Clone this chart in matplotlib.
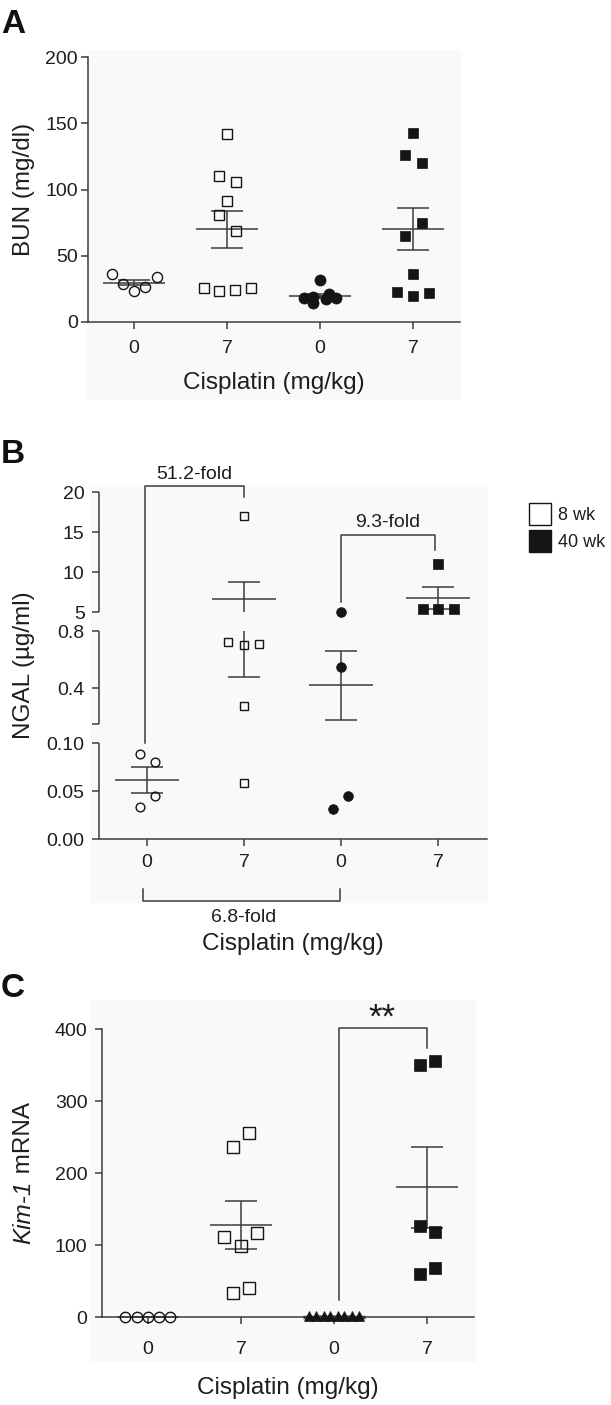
import numpy as np
import matplotlib
matplotlib.use('Agg')
import matplotlib.pyplot as plt
from matplotlib.lines import Line2D
from matplotlib.patches import Rectangle

plt.rcParams['font.family'] = ['Liberation Sans', 'DejaVu Sans']

# ---------------- data ----------------
xtick_labels = ['0', '7', '0', '7']
legend_labels = ['8 wk', '40 wk']

# Panel A: BUN (mg/dl)
bun_8wk_0 = [36, 29, 23.5, 26.5, 34]
bun_8wk_0_dx = [-0.24, -0.12, 0.0, 0.12, 0.25]
bun_8wk_7 = [142, 110, 106, 91, 81, 69, 26, 23.5, 24.3, 26]
bun_8wk_7_dx = [0.0, -0.09, 0.10, 0.0, -0.09, 0.10, -0.25, -0.09, 0.09, 0.26]
bun_40wk_0 = [32, 18, 14, 17, 21, 18, 19]
bun_40wk_0_dx = [0.0, -0.17, -0.07, 0.06, 0.10, 0.17, -0.08]
bun_40wk_7 = [143, 126, 120, 75, 65, 36, 23, 20, 22]
bun_40wk_7_dx = [0.0, -0.09, 0.10, 0.10, -0.09, 0.0, -0.17, 0.0, 0.17]
bun_mean = [29.5, 70, 19.6, 70]
bun_sem = [1.9, 14, 1.6, 16]

# Panel B: NGAL (ug/ml)
ngal_8wk_0 = [0.0885, 0.080, 0.045, 0.033]
ngal_8wk_0_dx = [-0.07, 0.08, 0.08, -0.07]
ngal_8wk_7 = [17.0, 0.72, 0.70, 0.71, 0.274, 0.058]
ngal_8wk_7_dx = [0.0, -0.16, 0.0, 0.15, 0.0, 0.0]
ngal_40wk_0 = [5.0, 0.55, 0.031, 0.045]
ngal_40wk_0_dx = [0.0, 0.0, -0.08, 0.07]
ngal_40wk_7 = [11.0, 5.4, 5.4, 5.4]
ngal_40wk_7_dx = [0.0, -0.15, 0.0, 0.16]
ngal_mean = [0.061, 6.6, 0.42, 6.75]
ngal_err_hi = [0.075, 8.75, 0.66, 8.1]
ngal_err_lo = [0.048, 0.48, 0.175, 5.4]

# Panel C: Kim-1 mRNA
kim_8wk_0 = [0, 0, 0, 0, 0]
kim_8wk_0_dx = [-0.25, -0.12, 0.0, 0.12, 0.24]
kim_8wk_7 = [256, 236, 111, 117, 99, 33, 40]
kim_8wk_7_dx = [0.09, -0.09, -0.18, 0.17, 0.0, -0.09, 0.09]
kim_40wk_0 = [1, 1, 1, 1, 1, 1, 1, 1]
kim_40wk_0_dx = [-0.27, -0.19, -0.11, -0.04, 0.04, 0.11, 0.19, 0.27]
kim_40wk_7 = [350, 355, 127, 118, 60, 68]
kim_40wk_7_dx = [-0.08, 0.09, -0.08, 0.09, -0.08, 0.09]
kim_mean = [0, 128, 0, 180]
kim_sem = [0, 33.5, 0, 56]

# ---------------- style ----------------
W, H = 611, 1405
LINE = '#3c3c3c'
INK = '#151515'
TXT = '#1e1e1e'
LW = 1.1
TICK_FS = 14
LABEL_FS = 17.5
ANN_FS = 14
MEAN_HW = 0.33
CAP_HW = 0.17

fig = plt.figure(figsize=(W / 100, H / 100), dpi=100)
fig.patch.set_facecolor('white')


def px_rect(x0, x1, ytop, ybot):
    return [x0 / W, 1 - ybot / H, (x1 - x0) / W, (ybot - ytop) / H]


def bg(x0, x1, ytop, ybot):
    fig.add_artist(Rectangle((x0 / W, 1 - ybot / H), (x1 - x0) / W, (ybot - ytop) / H,
                             transform=fig.transFigure, facecolor='#f9f9f9',
                             edgecolor='none', zorder=0))


def style(ax, ypad, xpad):
    for s in ['top', 'right']:
        ax.spines[s].set_visible(False)
    for s in ['left', 'bottom']:
        ax.spines[s].set_color(LINE)
        ax.spines[s].set_linewidth(LW)
    ax.tick_params(axis='both', direction='out', length=5, width=LW, color=LINE,
                   labelcolor=TXT, labelsize=TICK_FS)
    ax.tick_params(axis='y', pad=ypad)
    ax.tick_params(axis='x', pad=xpad)
    ax.set_facecolor('none')
    ax.set_xlim(-0.5, 3.5)
    ax.set_xticks(range(4))
    ax.set_xticklabels(xtick_labels)


def points(ax, gi, vals, dx, marker, filled, ms):
    x = gi + np.asarray(dx)
    ax.plot(x, vals, ls='none', marker=marker, ms=ms,
            mfc=INK if filled else 'none', mec=INK, mew=1.0 if not filled else 0.5,
            clip_on=False, zorder=4)


def mean_bar(ax, gi, m, lo, hi, lw=LW, vsegs=None):
    ax.hlines(m, gi - MEAN_HW, gi + MEAN_HW, color=LINE, lw=lw, zorder=3, clip_on=False)
    ax.hlines([lo, hi], gi - CAP_HW, gi + CAP_HW, color=LINE, lw=lw, zorder=3, clip_on=False)
    if vsegs is None:
        ax.vlines(gi, lo, hi, color=LINE, lw=lw, zorder=3, clip_on=False)
    else:
        for s0, s1 in vsegs:
            a, b = max(lo, s0), min(hi, s1)
            if b > a:
                ax.vlines(gi, a, b, color=LINE, lw=lw, zorder=3)


def xlabel(ax, ybase_px, ytop_px, ybot_px):
    frac = (ybot_px - ybase_px) / (ybot_px - ytop_px)
    ax.text(0.5, frac, 'Cisplatin (mg/kg)', transform=ax.transAxes, ha='center',
            va='baseline', fontsize=LABEL_FS, color=TXT)


# ---------------- Panel A ----------------
bg(87, 461, 50, 400)
axA = fig.add_axes(px_rect(87.5, 459.5, 57, 322))
style(axA, ypad=2, xpad=8)
axA.set_ylim(0, 200)
axA.set_yticks([0, 50, 100, 150, 200])
points(axA, 0, bun_8wk_0, bun_8wk_0_dx, 'o', False, 7.3)
points(axA, 1, bun_8wk_7, bun_8wk_7_dx, 's', False, 7.3)
points(axA, 2, bun_40wk_0, bun_40wk_0_dx, 'o', True, 8.0)
points(axA, 3, bun_40wk_7, bun_40wk_7_dx, 's', True, 7.8)
for i in range(4):
    mean_bar(axA, i, bun_mean[i], bun_mean[i] - bun_sem[i], bun_mean[i] + bun_sem[i])
axA.set_ylabel('BUN (mg/dl)', fontsize=LABEL_FS, color=TXT)
axA.yaxis.set_label_coords((35 - 87.5) / 372, 0.5)
xlabel(axA, 389, 57, 322)

# ---------------- Panel B ----------------
bg(90, 488, 485, 903)
seg_lo = [0.0, 0.15, 5.0]
seg_hi = [0.10, 0.8, 20.0]
data_knots = np.array([-1.0, 0.0, 0.10, 0.15, 0.8, 5.0, 20.0, 100.0])
disp_knots = np.array([-960.0, 0.0, 96.0, 115.0, 208.0, 227.0, 347.0, 987.0])


def fwd(v):
    return np.interp(v, data_knots, disp_knots)


def inv(d):
    return np.interp(d, disp_knots, data_knots)


axB = fig.add_axes(px_rect(98.5, 486.5, 492, 839))
style(axB, ypad=5, xpad=6)
axB.set_yscale('function', functions=(fwd, inv))
axB.set_ylim(0, 20)
axB.set_yticks([0, 0.05, 0.10, 0.15, 0.4, 0.8, 5, 10, 15, 20])
axB.set_yticklabels(['0.00', '0.05', '0.10', '', '0.4', '0.8', '5', '10', '15', '20'])
axB.yaxis.set_minor_locator(matplotlib.ticker.NullLocator())
axB.spines['left'].set_visible(False)
for s0, s1 in zip(seg_lo, seg_hi):
    axB.vlines(-0.5, s0, s1, color=LINE, lw=LW, clip_on=False, zorder=2)
segs = list(zip(seg_lo, seg_hi))
points(axB, 0, ngal_8wk_0, ngal_8wk_0_dx, 'o', False, 6.3)
points(axB, 1, ngal_8wk_7, ngal_8wk_7_dx, 's', False, 6.3)
points(axB, 2, ngal_40wk_0, ngal_40wk_0_dx, 'o', True, 7.0)
points(axB, 3, ngal_40wk_7, ngal_40wk_7_dx, 's', True, 6.6)
for i in range(4):
    mean_bar(axB, i, ngal_mean[i], ngal_err_lo[i], ngal_err_hi[i], vsegs=segs)
axB.set_ylabel('NGAL (µg/ml)', fontsize=LABEL_FS, color=TXT)
axB.yaxis.set_label_coords((35 - 98.5) / 388, 0.5)
xlabel(axB, 950, 492, 839)

# fold-change brackets
bk = dict(color=LINE, lw=LW, clip_on=False, zorder=2)
axB.plot([-0.02, -0.02, 1.0, 1.0], [0.10, 20.75, 20.75, 19.4], **bk)
axB.text(0.49, 21.6, '51.2-fold', ha='center', va='baseline', fontsize=ANN_FS, color=TXT)
axB.plot([2.0, 2.0, 2.97, 2.97], [6.25, 14.6, 14.6, 12.75], **bk)
axB.text(2.48, 15.6, '9.3-fold', ha='center', va='baseline', fontsize=ANN_FS, color=TXT)
tr = axB.get_xaxis_transform()
axB.plot([-0.04, -0.04, 1.99, 1.99], [-0.144, -0.179, -0.179, -0.144], transform=tr, **bk)
axB.text(1.0, -0.239, '6.8-fold', transform=tr, ha='center', va='baseline',
         fontsize=ANN_FS, color=TXT)

# legend
handles = [Line2D([], [], ls='none', marker='s', ms=16, mfc='white', mec=INK, mew=1.0),
           Line2D([], [], ls='none', marker='s', ms=16, mfc=INK, mec=INK, mew=1.0)]
fig.legend(handles, legend_labels, loc='upper left', bbox_to_anchor=(528 / W, 1 - 507 / H),
           frameon=False, fontsize=13, handlelength=1.3, handletextpad=0.35,
           labelspacing=0.55, borderpad=0.0, borderaxespad=0.0, labelcolor=TXT)

# ---------------- Panel C ----------------
bg(90, 476, 1000, 1362)
axC = fig.add_axes(px_rect(101.5, 473.5, 1029, 1317))
style(axC, ypad=5, xpad=12)
axC.set_ylim(0, 400)
axC.set_yticks([0, 100, 200, 300, 400])
points(axC, 0, kim_8wk_0, kim_8wk_0_dx, 'o', False, 7.5)
points(axC, 1, kim_8wk_7, kim_8wk_7_dx, 's', False, 8.0)
points(axC, 2, kim_40wk_0, kim_40wk_0_dx, '^', True, 6.5)
points(axC, 3, kim_40wk_7, kim_40wk_7_dx, 's', True, 8.0)
for i in range(4):
    mean_bar(axC, i, kim_mean[i], kim_mean[i] - kim_sem[i], kim_mean[i] + kim_sem[i],
             lw=(2.5 if i == 2 else LW))
xlabel(axC, 1394, 1029, 1317)
axC.plot([2.05, 2.05, 3.0, 3.0], [24, 401, 401, 374], **bk)
axC.text(2.52, 402, '**', ha='center', va='baseline', fontsize=25, color=TXT)

# y label with italic gene name: two text pieces stacked along the rotated baseline
fig.canvas.draw()
renderer = fig.canvas.get_renderer()
t_it = fig.text(0, 0, 'Kim-1', rotation=90, fontsize=LABEL_FS, style='italic',
                color=TXT, ha='left', va='bottom', rotation_mode='anchor')
t_rm = fig.text(0, 0, ' mRNA', rotation=90, fontsize=LABEL_FS, color=TXT,
                ha='left', va='bottom', rotation_mode='anchor')
h_it = t_it.get_window_extent(renderer).height
h_rm = t_rm.get_window_extent(renderer).height
total = h_it + h_rm
ycenter_px = (1029 + 1317) / 2
ystart = (H - ycenter_px) - total / 2
xb = 35 / W
t_it.set_position((xb, ystart / H))
t_rm.set_position((xb, (ystart + h_it) / H))

# panel letters
for lab, yb in [('A', 33), ('B', 463), ('C', 997)]:
    fig.text(1 / W, 1 - yb / H, lab, ha='left', va='baseline', fontsize=24,
             fontweight='bold', color='#111111')

fig.savefig('out.png', dpi=100, facecolor='white')
